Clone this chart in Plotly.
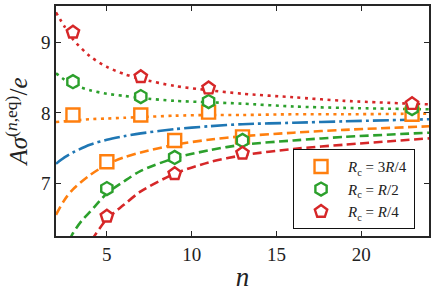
import plotly.graph_objects as go

# ---- data ----
n_markers = [3, 5, 7, 9, 11, 13, 23]
orange_markers = [7.97, 7.31, 7.97, 7.61, 8.01, 7.66, 7.98]
green_markers = [8.44, 6.93, 8.23, 7.37, 8.16, 7.61, 8.06]
red_markers = [9.14, 6.54, 8.51, 7.14, 8.35, 7.43, 8.13]

n_curve = [2, 2.5, 3, 4, 5, 6, 7, 9, 11, 13, 16, 19, 24]
red_dotted = [9.42, 9.22, 9.04, 8.80, 8.65, 8.55, 8.48, 8.38, 8.32, 8.27, 8.22, 8.17, 8.12]
green_dotted = [8.56, 8.47, 8.40, 8.32, 8.27, 8.24, 8.21, 8.17, 8.15, 8.13, 8.09, 8.07, 8.05]
orange_dotted = [7.87, 7.88, 7.89, 7.91, 7.92, 7.93, 7.94, 7.96, 7.97, 7.97, 7.98, 7.98, 7.99]
blue_dashdot = [7.28, 7.37, 7.44, 7.55, 7.62, 7.67, 7.71, 7.77, 7.81, 7.84, 7.86, 7.88, 7.91]
orange_dashed = [6.56, 6.77, 6.92, 7.12, 7.27, 7.37, 7.44, 7.55, 7.62, 7.67, 7.72, 7.76, 7.81]

n_green_dashed = [2.8, 3, 3.5, 4, 5, 6, 7, 9, 11, 13, 16, 19, 24]
green_dashed = [6.20, 6.30, 6.47, 6.60, 6.86, 7.03, 7.18, 7.36, 7.47, 7.55, 7.61, 7.66, 7.72]

n_red_dashed = [4.1, 5, 6, 7, 9, 11, 13, 16, 19, 24]
red_dashed = [6.20, 6.50, 6.70, 6.89, 7.14, 7.30, 7.40, 7.49, 7.55, 7.64]

labels = ["<i>R</i><sub>c</sub> = 3<i>R</i>/4",
          "<i>R</i><sub>c</sub> = <i>R</i>/2",
          "<i>R</i><sub>c</sub> = <i>R</i>/4"]

x_ticks = [5, 10, 15, 20]
y_ticks = [7, 8, 9]

BLUE, ORANGE, GREEN, RED = "#1f77b4", "#ff7f0e", "#2ca02c", "#d62728"
FONT = "Liberation Serif"

fig = go.Figure()

def add_line(x, y, color, dash):
    fig.add_trace(go.Scatter(x=x, y=y, mode="lines", showlegend=False,
                             line=dict(color=color, width=2.6, dash=dash, shape="spline", smoothing=0.8),
                             hoverinfo="skip"))

add_line(n_curve, blue_dashdot, BLUE, "16px,4px,3px,4px")
add_line(n_curve, orange_dashed, ORANGE, "9px,4.5px")
add_line(n_green_dashed, green_dashed, GREEN, "9px,4.5px")
add_line(n_red_dashed, red_dashed, RED, "9px,4.5px")
add_line(n_curve, orange_dotted, ORANGE, "3px,4.5px")
add_line(n_curve, green_dotted, GREEN, "3px,4.5px")
add_line(n_curve, red_dotted, RED, "3px,4.5px")

for ys, color, sym, lab in [(orange_markers, ORANGE, "square", labels[0]),
                            (green_markers, GREEN, "hexagon", labels[1]),
                            (red_markers, RED, "pentagon", labels[2])]:
    fig.add_trace(go.Scatter(x=n_markers, y=ys, mode="markers", name=lab,
                             marker=dict(symbol=sym, size=13, color="white",
                                         line=dict(color=color, width=2.4))))

axis_common = dict(showline=True, linewidth=1.5, linecolor="#262626", mirror="ticks",
                   ticks="inside", ticklen=5, tickwidth=1.2, tickcolor="#262626",
                   showgrid=False, zeroline=False, automargin=False,
                   tickfont=dict(family=FONT, size=19, color="#222"))

fig.update_xaxes(range=[2, 24], tickvals=x_ticks, ticktext=[str(t) for t in x_ticks],
                 title=dict(text="<i>n</i>", font=dict(family=FONT, size=27, color="#222"), standoff=4),
                 **axis_common)
fig.update_yaxes(range=[6.26, 9.51], tickvals=y_ticks, ticktext=[str(t) for t in y_ticks],
                 title=dict(text="<i>Aσ</i><sup>(<i>n</i>,eq)</sup>/<i>e</i>",
                            font=dict(family=FONT, size=25, color="#222"), standoff=6),
                 **axis_common)

fig.update_layout(
    width=436, height=296,
    margin=dict(l=56, r=7, t=6, b=60, autoexpand=False),
    paper_bgcolor="white", plot_bgcolor="white",
    legend=dict(x=0.962, y=0.03, xanchor="right", yanchor="bottom",
                bgcolor="white", bordercolor="#111", borderwidth=1.2,
                font=dict(family=FONT, size=15, color="#222"),
                itemwidth=44, tracegroupgap=0),
)

fig.write_html("out.html", config={"displayModeBar": False},
               post_script="document.body.style.margin='0';")
